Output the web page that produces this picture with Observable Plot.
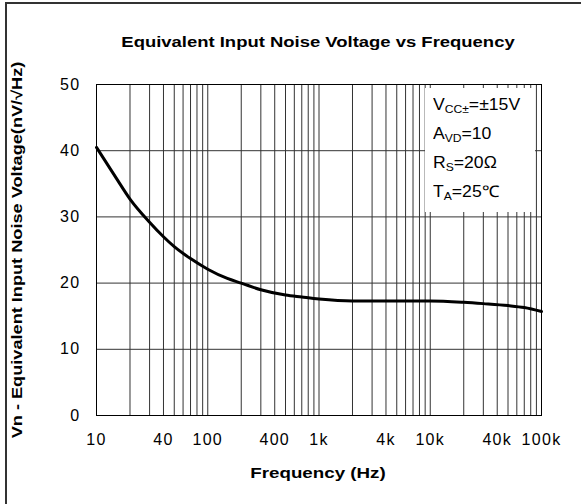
<!DOCTYPE html>
<html>
<head>
<meta charset="utf-8">
<script src="https://cdn.jsdelivr.net/npm/d3@7"></script>
<script src="https://cdn.jsdelivr.net/npm/@observablehq/plot@0.6"></script>
<style>
  html, body { margin: 0; padding: 0; background: #fff; }
  #wrap { position: relative; width: 581px; height: 504px; overflow: hidden; font-family: "Liberation Sans", Arial, sans-serif; color: #000; }
  #border { position: absolute; left: 5px; top: 2px; width: 700px; height: 700px; border-left: 2px solid #333; border-top: 2px solid #333; pointer-events: none; }
  .bold { position: absolute; font-weight: bold; font-size: 15px; white-space: nowrap; }
  #title { left: 318px; top: 41px; transform: translate(-50%, -50%) scaleX(1.23); }
  #xlabel { left: 318px; top: 472px; transform: translate(-50%, -50%) scaleX(1.25); }
  #ylabel { left: 16px; top: 250px; transform: translate(-50%, -50%) rotate(-90deg) scaleX(1.21); }
  #legend { position: absolute; left: 425px; top: 88px; width: 110px; height: 124px; background: #fff; }
  #legend .lines { position: absolute; left: 8px; top: 2px; font-size: 16px; line-height: 29px; transform: scaleX(1.1); transform-origin: left top; white-space: nowrap; }
  #legend sub { font-size: 11px; vertical-align: -3px; line-height: 0; }
  #chart { position: absolute; left: 0; top: 0; }
  #chart svg text { letter-spacing: 1.3px; }
</style>
</head>
<body>
<div id="wrap">
  <div id="chart"></div>
  <div id="title" class="bold">Equivalent Input Noise Voltage vs Frequency</div>
  <div id="ylabel" class="bold">Vn - Equivalent Input Noise Voltage(nV/√Hz)</div>
  <div id="xlabel" class="bold">Frequency (Hz)</div>
  <div id="legend">
    <div class="lines">
      <div>V<sub>CC±</sub>=±15V</div>
      <div>A<sub>VD</sub>=10</div>
      <div>R<sub>S</sub>=20Ω</div>
      <div>T<sub>A</sub>=25℃</div>
    </div>
  </div>
  <div id="border"></div>
</div>
<script>
// Curve data
const freq  = [10, 15, 20, 30, 40, 50, 70, 100, 150, 200, 300, 500, 700, 1000, 2000, 5000, 10000, 20000, 30000, 50000, 70000, 100000];
const noise = [40.5, 35.9, 32.7, 29.2, 27.0, 25.5, 23.7, 22.1, 20.7, 20.0, 19.0, 18.2, 17.9, 17.6, 17.3, 17.3, 17.3, 17.1, 16.9, 16.6, 16.3, 15.7];

// Axis ticks
const yTicks = [0, 10, 20, 30, 40, 50];
const xTicks = [10, 40, 100, 400, 1000, 4000, 10000, 40000, 100000];
const xTickLabels = ["10", "40", "100", "400", "1k", "4k", "10k", "40k", "100k"];

// Log grid (1..9 per decade)
const gridFreqs = d3.range(1, 5).flatMap(e => d3.range(1, 10).map(m => m * 10 ** e)).concat([100000]);

const data = freq.map((f, i) => ({f, v: noise[i]}));

const chart = Plot.plot({
  width: 581,
  height: 504,
  marginTop: 84,
  marginRight: 40,
  marginBottom: 89,
  marginLeft: 96,
  style: {background: "transparent", fontFamily: "'Liberation Sans', Arial, sans-serif", fontSize: "16px", color: "#000"},
  x: {type: "log", domain: [10, 100000], axis: null},
  y: {domain: [0, 50], axis: null},
  marks: [
    Plot.ruleX(gridFreqs, {stroke: "#333", strokeWidth: 1}),
    Plot.ruleY(yTicks, {stroke: "#333", strokeWidth: 1}),
    Plot.frame({stroke: "#000"}),
    Plot.text(xTicks, {x: d => d, text: (d, i) => xTickLabels[i], frameAnchor: "bottom", lineAnchor: "top", dy: 18, fontSize: 16, fill: "#000"}),
    Plot.axisY(yTicks, {tickSize: 0, tickPadding: 16, label: null, fontSize: 16}),
    Plot.line(data, {x: "f", y: "v", stroke: "#000", strokeWidth: 3, curve: "monotone-x"})
  ]
});
document.getElementById("chart").appendChild(chart);
</script>
</body>
</html>
